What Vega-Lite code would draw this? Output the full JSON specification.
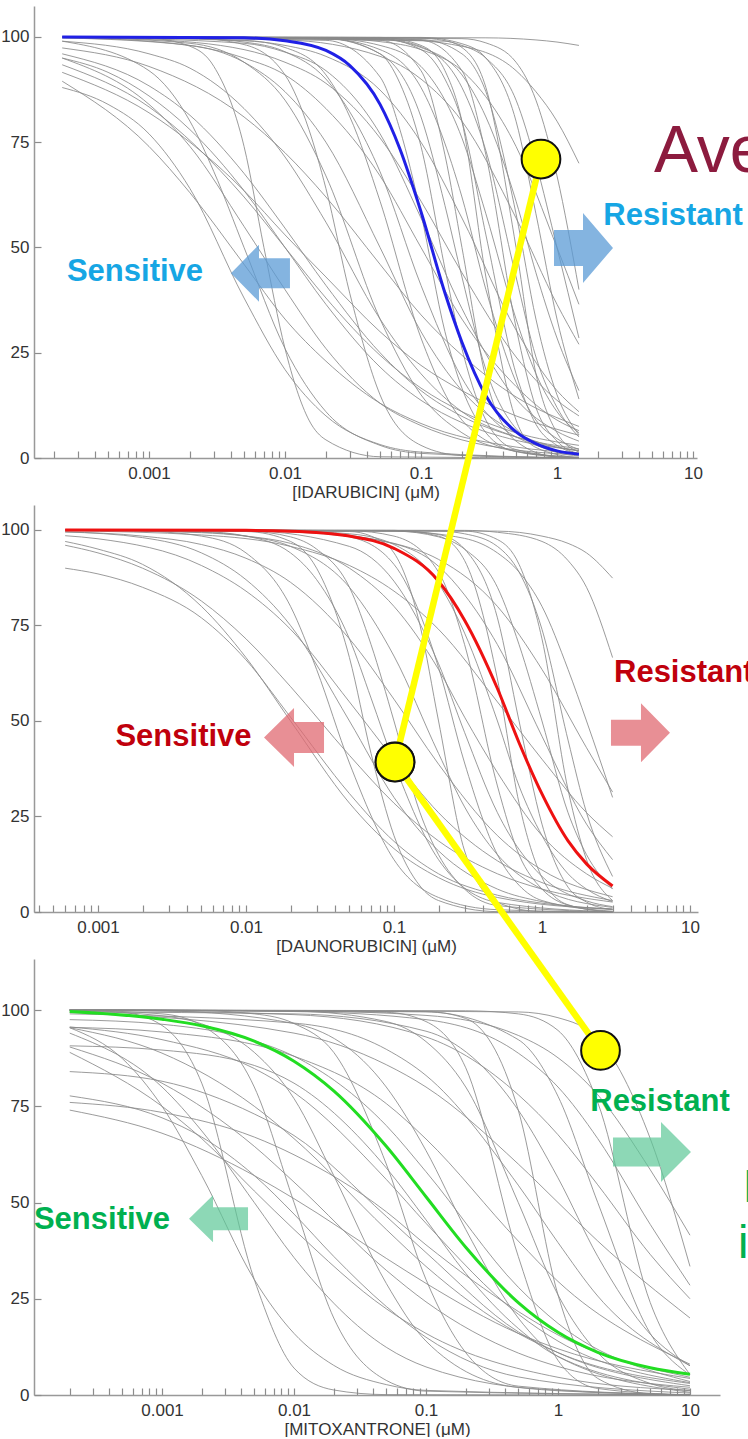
{
"$schema": "https://vega.github.io/schema/vega-lite/v6.json",
"padding": {"left": 0, "top": 6, "right": 0, "bottom": 0},
"autosize": {"type": "pad"},
"bounds": "flush",
"spacing": 47,
"config": {
  "font": "Liberation Sans",
  "view": {"stroke": null},
  "axis": {"grid": false, "domainColor": "#999999", "domainWidth": 1.5, "tickColor": "#8c8c8c", "tickWidth": 1.2, "labelColor": "#333333", "labelFontSize": 17, "labelFont": "Liberation Sans", "titleFont": "Liberation Sans", "titleFontSize": 17, "titleFontWeight": "normal", "titleColor": "#333333"}
},
"datasets": {
"p1": [
{"c":1,"x":0.00023,"y":100},{"c":1,"x":0.02,"y":99.7},{"c":1,"x":0.05,"y":96},{"c":1,"x":0.07,"y":89},{"c":1,"x":0.1,"y":74},{"c":1,"x":0.15,"y":45},{"c":1,"x":0.2,"y":26},{"c":1,"x":0.3,"y":9},{"c":1,"x":0.5,"y":2},{"c":1,"x":1.45,"y":0},
{"c":2,"x":0.00023,"y":100},{"c":2,"x":0.02,"y":99.6},{"c":2,"x":0.05,"y":96},{"c":2,"x":0.1,"y":81},{"c":2,"x":0.15,"y":60},{"c":2,"x":0.2,"y":43},{"c":2,"x":0.3,"y":21},{"c":2,"x":0.5,"y":7},{"c":2,"x":1,"y":1.3},{"c":2,"x":1.45,"y":0.5},
{"c":3,"x":0.00023,"y":100},{"c":3,"x":0.05,"y":99.2},{"c":3,"x":0.1,"y":92},{"c":3,"x":0.15,"y":72},{"c":3,"x":0.2,"y":50},{"c":3,"x":0.3,"y":19},{"c":3,"x":0.5,"y":4},{"c":3,"x":1,"y":0.2},{"c":3,"x":1.45,"y":0},
{"c":4,"x":0.00023,"y":100},{"c":4,"x":0.02,"y":99.6},{"c":4,"x":0.05,"y":97},{"c":4,"x":0.1,"y":88},{"c":4,"x":0.2,"y":62},{"c":4,"x":0.3,"y":40},{"c":4,"x":0.5,"y":18},{"c":4,"x":0.7,"y":9},{"c":4,"x":1,"y":4.6},{"c":4,"x":1.45,"y":2},
{"c":5,"x":0.00023,"y":100},{"c":5,"x":0.05,"y":99.9},{"c":5,"x":0.1,"y":98},{"c":5,"x":0.15,"y":92},{"c":5,"x":0.2,"y":80},{"c":5,"x":0.3,"y":43},{"c":5,"x":0.5,"y":9},{"c":5,"x":0.7,"y":2.5},{"c":5,"x":1.45,"y":0},
{"c":6,"x":0.00023,"y":100},{"c":6,"x":0.05,"y":99.6},{"c":6,"x":0.1,"y":97},{"c":6,"x":0.15,"y":90},{"c":6,"x":0.2,"y":80},{"c":6,"x":0.3,"y":53},{"c":6,"x":0.5,"y":20},{"c":6,"x":0.7,"y":8},{"c":6,"x":1,"y":3},{"c":6,"x":1.45,"y":1},
{"c":7,"x":0.00023,"y":100},{"c":7,"x":0.02,"y":99.7},{"c":7,"x":0.05,"y":98},{"c":7,"x":0.1,"y":93},{"c":7,"x":0.2,"y":76},{"c":7,"x":0.3,"y":58},{"c":7,"x":0.5,"y":33},{"c":7,"x":0.7,"y":20},{"c":7,"x":1,"y":11},{"c":7,"x":1.45,"y":6},
{"c":8,"x":0.00023,"y":100},{"c":8,"x":0.1,"y":99.2},{"c":8,"x":0.2,"y":92},{"c":8,"x":0.3,"y":72},{"c":8,"x":0.5,"y":31},{"c":8,"x":0.7,"y":12},{"c":8,"x":1,"y":4},{"c":8,"x":1.45,"y":1},
{"c":9,"x":0.00023,"y":100},{"c":9,"x":0.05,"y":99.6},{"c":9,"x":0.1,"y":97.7},{"c":9,"x":0.2,"y":88},{"c":9,"x":0.3,"y":73},{"c":9,"x":0.5,"y":43},{"c":9,"x":0.7,"y":24},{"c":9,"x":1,"y":12},{"c":9,"x":1.45,"y":5},
{"c":10,"x":0.00023,"y":100},{"c":10,"x":0.15,"y":99},{"c":10,"x":0.2,"y":97.5},{"c":10,"x":0.3,"y":88},{"c":10,"x":0.5,"y":50},{"c":10,"x":0.7,"y":20},{"c":10,"x":1,"y":6},{"c":10,"x":1.45,"y":1.4},
{"c":11,"x":0.00023,"y":100},{"c":11,"x":0.1,"y":99.4},{"c":11,"x":0.2,"y":96},{"c":11,"x":0.3,"y":87},{"c":11,"x":0.5,"y":58},{"c":11,"x":0.7,"y":33},{"c":11,"x":1,"y":15},{"c":11,"x":1.45,"y":5.5},
{"c":12,"x":0.00023,"y":100},{"c":12,"x":0.05,"y":99.4},{"c":12,"x":0.1,"y":97.5},{"c":12,"x":0.2,"y":91},{"c":12,"x":0.3,"y":81},{"c":12,"x":0.5,"y":61},{"c":12,"x":0.7,"y":44},{"c":12,"x":1,"y":28.5},{"c":12,"x":1.45,"y":16},
{"c":13,"x":0.00023,"y":100},{"c":13,"x":0.1,"y":99.9},{"c":13,"x":0.2,"y":98.4},{"c":13,"x":0.3,"y":95},{"c":13,"x":0.5,"y":80},{"c":13,"x":0.7,"y":58},{"c":13,"x":1,"y":33},{"c":13,"x":1.45,"y":14},
{"c":14,"x":0.00023,"y":100},{"c":14,"x":0.1,"y":99.7},{"c":14,"x":0.2,"y":98},{"c":14,"x":0.3,"y":95},{"c":14,"x":0.5,"y":85},{"c":14,"x":0.7,"y":70},{"c":14,"x":1,"y":50},{"c":14,"x":1.45,"y":28.5},
{"c":15,"x":0.00023,"y":100},{"c":15,"x":0.2,"y":99.6},{"c":15,"x":0.3,"y":98.6},{"c":15,"x":0.5,"y":94},{"c":15,"x":0.7,"y":85},{"c":15,"x":1,"y":67},{"c":15,"x":1.45,"y":40},
{"c":16,"x":0.00023,"y":100},{"c":16,"x":0.05,"y":99.7},{"c":16,"x":0.2,"y":97.8},{"c":16,"x":0.5,"y":92},{"c":16,"x":0.7,"y":87},{"c":16,"x":1,"y":80},{"c":16,"x":1.45,"y":70},
{"c":17,"x":0.00023,"y":100},{"c":17,"x":0.3,"y":99.8},{"c":17,"x":0.7,"y":99.3},{"c":17,"x":1,"y":98.8},{"c":17,"x":1.45,"y":98},
{"c":18,"x":0.00023,"y":100},{"c":18,"x":0.002,"y":98.5},{"c":18,"x":0.005,"y":94},{"c":18,"x":0.01,"y":85},{"c":18,"x":0.02,"y":67},{"c":18,"x":0.05,"y":33},{"c":18,"x":0.1,"y":15},{"c":18,"x":0.2,"y":6},{"c":18,"x":0.5,"y":1.6},{"c":18,"x":1.45,"y":0.2},
{"c":19,"x":0.00023,"y":99.8},{"c":19,"x":0.002,"y":98},{"c":19,"x":0.005,"y":94},{"c":19,"x":0.01,"y":87},{"c":19,"x":0.02,"y":75},{"c":19,"x":0.05,"y":50},{"c":19,"x":0.1,"y":30},{"c":19,"x":0.2,"y":16},{"c":19,"x":0.5,"y":6},{"c":19,"x":1.45,"y":1.7},
{"c":20,"x":0.00023,"y":100},{"c":20,"x":0.005,"y":99.2},{"c":20,"x":0.01,"y":97.5},{"c":20,"x":0.02,"y":91},{"c":20,"x":0.03,"y":81},{"c":20,"x":0.05,"y":61},{"c":20,"x":0.1,"y":28.5},{"c":20,"x":0.2,"y":9},{"c":20,"x":0.5,"y":1.6},{"c":20,"x":1.45,"y":0},
{"c":21,"x":0.00023,"y":99.8},{"c":21,"x":0.001,"y":99},{"c":21,"x":0.005,"y":95},{"c":21,"x":0.01,"y":91},{"c":21,"x":0.02,"y":83},{"c":21,"x":0.05,"y":67},{"c":21,"x":0.1,"y":50},{"c":21,"x":0.2,"y":33},{"c":21,"x":0.5,"y":17},{"c":21,"x":1,"y":9},{"c":21,"x":1.45,"y":6.5},
{"c":22,"x":0.00023,"y":100},{"c":22,"x":0.002,"y":99.7},{"c":22,"x":0.005,"y":98.8},{"c":22,"x":0.01,"y":96.5},{"c":22,"x":0.02,"y":90},{"c":22,"x":0.05,"y":68},{"c":22,"x":0.1,"y":41},{"c":22,"x":0.2,"y":19},{"c":22,"x":0.5,"y":5},{"c":22,"x":1.45,"y":1},
{"c":23,"x":0.00023,"y":100},{"c":23,"x":0.005,"y":98.5},{"c":23,"x":0.01,"y":96.4},{"c":23,"x":0.02,"y":92},{"c":23,"x":0.05,"y":77},{"c":23,"x":0.1,"y":57},{"c":23,"x":0.2,"y":35.5},{"c":23,"x":0.5,"y":14},{"c":23,"x":1,"y":6.3},{"c":23,"x":1.45,"y":4},
{"c":24,"x":0.00023,"y":99},{"c":24,"x":0.001,"y":96},{"c":24,"x":0.002,"y":92.6},{"c":24,"x":0.005,"y":83},{"c":24,"x":0.01,"y":71.5},{"c":24,"x":0.02,"y":56},{"c":24,"x":0.05,"y":33},{"c":24,"x":0.1,"y":20},{"c":24,"x":0.2,"y":11},{"c":24,"x":0.5,"y":5},{"c":24,"x":1.45,"y":1.7},
{"c":25,"x":0.00023,"y":100},{"c":25,"x":0.001,"y":99.7},{"c":25,"x":0.002,"y":97.8},{"c":25,"x":0.003,"y":93},{"c":25,"x":0.005,"y":74},{"c":25,"x":0.007,"y":50},{"c":25,"x":0.01,"y":26},{"c":25,"x":0.015,"y":9},{"c":25,"x":0.02,"y":4.3},{"c":25,"x":0.05,"y":0.3},{"c":25,"x":1.45,"y":0},
{"c":26,"x":0.00023,"y":95},{"c":26,"x":0.0005,"y":91.6},{"c":26,"x":0.001,"y":86},{"c":26,"x":0.002,"y":78},{"c":26,"x":0.005,"y":63.5},{"c":26,"x":0.01,"y":50},{"c":26,"x":0.02,"y":36.5},{"c":26,"x":0.05,"y":21.6},{"c":26,"x":0.1,"y":13.7},{"c":26,"x":0.2,"y":8.4},{"c":26,"x":0.5,"y":4.2},{"c":26,"x":1.45,"y":1.8},
{"c":27,"x":0.00023,"y":91.6},{"c":27,"x":0.001,"y":82},{"c":27,"x":0.002,"y":75},{"c":27,"x":0.005,"y":63.5},{"c":27,"x":0.01,"y":53},{"c":27,"x":0.02,"y":43},{"c":27,"x":0.05,"y":30},{"c":27,"x":0.1,"y":22},{"c":27,"x":0.2,"y":16},{"c":27,"x":0.5,"y":10},{"c":27,"x":1.45,"y":5.4},
{"c":28,"x":0.00023,"y":95},{"c":28,"x":0.001,"y":84},{"c":28,"x":0.002,"y":74},{"c":28,"x":0.005,"y":55},{"c":28,"x":0.01,"y":40},{"c":28,"x":0.02,"y":26},{"c":28,"x":0.05,"y":13},{"c":28,"x":0.1,"y":7.7},{"c":28,"x":0.2,"y":4.3},{"c":28,"x":0.5,"y":1.9},{"c":28,"x":1.45,"y":0.8},
{"c":29,"x":0.00023,"y":89.5},{"c":29,"x":0.001,"y":74},{"c":29,"x":0.002,"y":63},{"c":29,"x":0.005,"y":46},{"c":29,"x":0.01,"y":33},{"c":29,"x":0.02,"y":23},{"c":29,"x":0.05,"y":13},{"c":29,"x":0.1,"y":8.2},{"c":29,"x":0.5,"y":2.6},{"c":29,"x":1.45,"y":1.2},
{"c":30,"x":0.00023,"y":88},{"c":30,"x":0.0005,"y":84},{"c":30,"x":0.001,"y":77},{"c":30,"x":0.002,"y":64},{"c":30,"x":0.005,"y":38},{"c":30,"x":0.01,"y":21},{"c":30,"x":0.02,"y":10},{"c":30,"x":0.05,"y":3.2},{"c":30,"x":0.1,"y":1.4},{"c":30,"x":1.45,"y":0},
{"c":31,"x":0.00023,"y":93.4},{"c":31,"x":0.001,"y":83.4},{"c":31,"x":0.005,"y":62},{"c":31,"x":0.01,"y":50},{"c":31,"x":0.02,"y":38},{"c":31,"x":0.05,"y":24.4},{"c":31,"x":0.1,"y":16.6},{"c":31,"x":0.2,"y":11},{"c":31,"x":0.5,"y":6},{"c":31,"x":1.45,"y":3},
{"c":32,"x":0.00023,"y":97.4},{"c":32,"x":0.001,"y":93},{"c":32,"x":0.005,"y":81},{"c":32,"x":0.01,"y":72.5},{"c":32,"x":0.02,"y":62},{"c":32,"x":0.05,"y":46},{"c":32,"x":0.1,"y":34},{"c":32,"x":0.2,"y":24.4},{"c":32,"x":0.5,"y":14.5},{"c":32,"x":1.45,"y":7.5},
{"c":33,"x":0.00023,"y":99},{"c":33,"x":0.001,"y":92},{"c":33,"x":0.002,"y":80},{"c":33,"x":0.003,"y":68},{"c":33,"x":0.005,"y":50},{"c":33,"x":0.01,"y":26},{"c":33,"x":0.02,"y":11},{"c":33,"x":0.05,"y":3},{"c":33,"x":0.1,"y":1.1},{"c":33,"x":1.45,"y":0},
{"c":34,"x":0.00023,"y":99.9},{"c":34,"x":0.001,"y":99.4},{"c":34,"x":0.005,"y":97},{"c":34,"x":0.01,"y":94},{"c":34,"x":0.02,"y":89},{"c":34,"x":0.05,"y":76},{"c":34,"x":0.1,"y":61},{"c":34,"x":0.2,"y":44},{"c":34,"x":0.5,"y":24},{"c":34,"x":1,"y":13.7},{"c":34,"x":1.45,"y":10},
{"c":35,"x":0.00023,"y":100},{"c":35,"x":0.005,"y":99.1},{"c":35,"x":0.01,"y":98},{"c":35,"x":0.02,"y":95.4},{"c":35,"x":0.05,"y":87.4},{"c":35,"x":0.1,"y":75},{"c":35,"x":0.2,"y":57},{"c":35,"x":0.5,"y":30.4},{"c":35,"x":1,"y":16},{"c":35,"x":1.45,"y":11},
{"c":36,"x":0.00023,"y":100},{"c":36,"x":0.01,"y":99.3},{"c":36,"x":0.05,"y":95.4},{"c":36,"x":0.1,"y":90},{"c":36,"x":0.2,"y":80},{"c":36,"x":0.5,"y":57},{"c":36,"x":1,"y":36.5},{"c":36,"x":1.45,"y":27},
{"c":37,"x":0.00023,"y":100},{"c":37,"x":0.02,"y":99.7},{"c":37,"x":0.05,"y":98.9},{"c":37,"x":0.1,"y":97},{"c":37,"x":0.2,"y":92},{"c":37,"x":0.5,"y":74},{"c":37,"x":1,"y":50},{"c":37,"x":1.45,"y":36.5},
{"c":38,"x":0.00023,"y":96},{"c":38,"x":0.001,"y":88.4},{"c":38,"x":0.002,"y":81.4},{"c":38,"x":0.005,"y":67.6},{"c":38,"x":0.01,"y":54.6},{"c":38,"x":0.02,"y":41},{"c":38,"x":0.05,"y":25},{"c":38,"x":0.1,"y":16},{"c":38,"x":0.2,"y":9.9},{"c":38,"x":0.5,"y":5},{"c":38,"x":1.45,"y":2.2},
{"c":39,"x":0.00023,"y":100},{"c":39,"x":0.002,"y":99.8},{"c":39,"x":0.005,"y":98.2},{"c":39,"x":0.01,"y":91},{"c":39,"x":0.015,"y":78},{"c":39,"x":0.02,"y":64},{"c":39,"x":0.03,"y":39},{"c":39,"x":0.05,"y":15},{"c":39,"x":0.1,"y":3},{"c":39,"x":0.2,"y":0.6},{"c":39,"x":1.45,"y":0},
{"c":40,"x":0.00023,"y":100},{"c":40,"x":0.02,"y":99.2},{"c":40,"x":0.05,"y":90.5},{"c":40,"x":0.07,"y":78},{"c":40,"x":0.1,"y":58},{"c":40,"x":0.15,"y":30},{"c":40,"x":0.2,"y":16.6},{"c":40,"x":0.3,"y":6},{"c":40,"x":0.5,"y":1.5},{"c":40,"x":1.45,"y":0}
],
"a1": [{"x":0.00023,"y":100},{"x":0.005,"y":99.8},{"x":0.01,"y":99.1},{"x":0.02,"y":96.8},{"x":0.03,"y":93.2},{"x":0.05,"y":84},{"x":0.07,"y":73.4},{"x":0.1,"y":58.5},{"x":0.15,"y":39.2},{"x":0.2,"y":27.5},{"x":0.3,"y":14.8},{"x":0.5,"y":6.2},{"x":0.7,"y":3.4},{"x":1,"y":1.7},{"x":1.45,"y":0.9}],
"p2": [
{"c":1,"x":0.0006,"y":90},{"c":1,"x":0.001,"y":88.5},{"c":1,"x":0.002,"y":85},{"c":1,"x":0.005,"y":77},{"c":1,"x":0.01,"y":66},{"c":1,"x":0.02,"y":51},{"c":1,"x":0.05,"y":31},{"c":1,"x":0.1,"y":18.5},{"c":1,"x":0.2,"y":10},{"c":1,"x":0.5,"y":4.4},{"c":1,"x":1,"y":2.3},{"c":1,"x":3,"y":0.8},
{"c":2,"x":0.0006,"y":99.5},{"c":2,"x":0.002,"y":98},{"c":2,"x":0.005,"y":94},{"c":2,"x":0.01,"y":87},{"c":2,"x":0.02,"y":75},{"c":2,"x":0.05,"y":50},{"c":2,"x":0.1,"y":30},{"c":2,"x":0.2,"y":16},{"c":2,"x":0.5,"y":6},{"c":2,"x":1,"y":2.7},{"c":2,"x":3,"y":0.7},
{"c":3,"x":0.0006,"y":100},{"c":3,"x":0.005,"y":99.6},{"c":3,"x":0.01,"y":98.4},{"c":3,"x":0.02,"y":94},{"c":3,"x":0.03,"y":87},{"c":3,"x":0.05,"y":71.5},{"c":3,"x":0.07,"y":56},{"c":3,"x":0.1,"y":39},{"c":3,"x":0.2,"y":13.7},{"c":3,"x":0.5,"y":2.5},{"c":3,"x":3,"y":0},
{"c":4,"x":0.0006,"y":96},{"c":4,"x":0.001,"y":94},{"c":4,"x":0.002,"y":90},{"c":4,"x":0.005,"y":81.4},{"c":4,"x":0.01,"y":71.5},{"c":4,"x":0.02,"y":59},{"c":4,"x":0.05,"y":41},{"c":4,"x":0.1,"y":28.5},{"c":4,"x":0.2,"y":18.6},{"c":4,"x":0.5,"y":10},{"c":4,"x":1,"y":6},{"c":4,"x":3,"y":2.6},
{"c":5,"x":0.0006,"y":100},{"c":5,"x":0.01,"y":99.7},{"c":5,"x":0.02,"y":98.2},{"c":5,"x":0.03,"y":95},{"c":5,"x":0.05,"y":85},{"c":5,"x":0.07,"y":70},{"c":5,"x":0.1,"y":50},{"c":5,"x":0.15,"y":26},{"c":5,"x":0.2,"y":15},{"c":5,"x":0.3,"y":6},{"c":5,"x":0.5,"y":1.7},{"c":5,"x":3,"y":0},
{"c":6,"x":0.0006,"y":100},{"c":6,"x":0.005,"y":99.4},{"c":6,"x":0.01,"y":98.4},{"c":6,"x":0.02,"y":95.7},{"c":6,"x":0.05,"y":85},{"c":6,"x":0.1,"y":67},{"c":6,"x":0.2,"y":41.5},{"c":6,"x":0.3,"y":27.5},{"c":6,"x":0.5,"y":15},{"c":6,"x":1,"y":6},{"c":6,"x":3,"y":1.2},
{"c":7,"x":0.0006,"y":100},{"c":7,"x":0.02,"y":99.8},{"c":7,"x":0.05,"y":98.2},{"c":7,"x":0.1,"y":91},{"c":7,"x":0.15,"y":78},{"c":7,"x":0.2,"y":64},{"c":7,"x":0.3,"y":39},{"c":7,"x":0.5,"y":15},{"c":7,"x":0.7,"y":7},{"c":7,"x":1,"y":3},{"c":7,"x":3,"y":0.2},
{"c":8,"x":0.0006,"y":100},{"c":8,"x":0.005,"y":99.3},{"c":8,"x":0.01,"y":98.4},{"c":8,"x":0.02,"y":96.5},{"c":8,"x":0.05,"y":90},{"c":8,"x":0.1,"y":80},{"c":8,"x":0.2,"y":63.5},{"c":8,"x":0.3,"y":51},{"c":8,"x":0.5,"y":36.5},{"c":8,"x":1,"y":20},{"c":8,"x":2,"y":10},{"c":8,"x":3,"y":6.2},
{"c":9,"x":0.0006,"y":100},{"c":9,"x":0.05,"y":99.8},{"c":9,"x":0.1,"y":98.4},{"c":9,"x":0.2,"y":89},{"c":9,"x":0.3,"y":70},{"c":9,"x":0.5,"y":33},{"c":9,"x":0.7,"y":15},{"c":9,"x":1,"y":6},{"c":9,"x":1.5,"y":1.8},{"c":9,"x":3,"y":0},
{"c":10,"x":0.0006,"y":100},{"c":10,"x":0.02,"y":99.7},{"c":10,"x":0.05,"y":99},{"c":10,"x":0.1,"y":96.2},{"c":10,"x":0.2,"y":86},{"c":10,"x":0.3,"y":73},{"c":10,"x":0.5,"y":50},{"c":10,"x":0.7,"y":33},{"c":10,"x":1,"y":20},{"c":10,"x":1.5,"y":10},{"c":10,"x":2,"y":6},{"c":10,"x":3,"y":2.7},
{"c":11,"x":0.0006,"y":100},{"c":11,"x":0.1,"y":99.8},{"c":11,"x":0.2,"y":98.8},{"c":11,"x":0.3,"y":95},{"c":11,"x":0.5,"y":77},{"c":11,"x":0.7,"y":50},{"c":11,"x":1,"y":23},{"c":11,"x":1.5,"y":6.5},{"c":11,"x":2,"y":2.6},{"c":11,"x":3,"y":0.6},
{"c":12,"x":0.0006,"y":100},{"c":12,"x":0.1,"y":99.7},{"c":12,"x":0.2,"y":98.2},{"c":12,"x":0.3,"y":95},{"c":12,"x":0.5,"y":85},{"c":12,"x":0.7,"y":70},{"c":12,"x":1,"y":50},{"c":12,"x":1.5,"y":26},{"c":12,"x":2,"y":15},{"c":12,"x":3,"y":6},
{"c":13,"x":0.0006,"y":100},{"c":13,"x":0.2,"y":99.7},{"c":13,"x":0.3,"y":99},{"c":13,"x":0.5,"y":95.7},{"c":13,"x":0.7,"y":89},{"c":13,"x":1,"y":74},{"c":13,"x":1.5,"y":45},{"c":13,"x":2,"y":26},{"c":13,"x":3,"y":9.3},
{"c":14,"x":0.0006,"y":100},{"c":14,"x":0.1,"y":99.7},{"c":14,"x":0.3,"y":97.8},{"c":14,"x":0.5,"y":94},{"c":14,"x":0.7,"y":89},{"c":14,"x":1,"y":80},{"c":14,"x":1.5,"y":63.5},{"c":14,"x":2,"y":50},{"c":14,"x":3,"y":30},
{"c":15,"x":0.0006,"y":100},{"c":15,"x":0.3,"y":99.9},{"c":15,"x":0.5,"y":99.4},{"c":15,"x":1,"y":97},{"c":15,"x":1.5,"y":92},{"c":15,"x":2,"y":85},{"c":15,"x":3,"y":66.6},
{"c":16,"x":0.0006,"y":100},{"c":16,"x":0.5,"y":99.7},{"c":16,"x":1,"y":98.4},{"c":16,"x":1.5,"y":96.5},{"c":16,"x":2,"y":94},{"c":16,"x":3,"y":87.4},
{"c":17,"x":0.0006,"y":100},{"c":17,"x":0.05,"y":99.6},{"c":17,"x":0.07,"y":98.4},{"c":17,"x":0.1,"y":94},{"c":17,"x":0.15,"y":75},{"c":17,"x":0.2,"y":50},{"c":17,"x":0.3,"y":16},{"c":17,"x":0.5,"y":2.5},{"c":17,"x":1,"y":0.1},{"c":17,"x":3,"y":0},
{"c":18,"x":0.0006,"y":100},{"c":18,"x":0.1,"y":99.9},{"c":18,"x":0.2,"y":98.4},{"c":18,"x":0.3,"y":92},{"c":18,"x":0.5,"y":61},{"c":18,"x":0.7,"y":28.5},{"c":18,"x":1,"y":9},{"c":18,"x":1.5,"y":1.9},{"c":18,"x":3,"y":0},
{"c":19,"x":0.0006,"y":100},{"c":19,"x":0.3,"y":99.7},{"c":19,"x":0.5,"y":97.5},{"c":19,"x":0.7,"y":91},{"c":19,"x":1,"y":71.5},{"c":19,"x":1.5,"y":32},{"c":19,"x":2,"y":13.7},{"c":19,"x":3,"y":3},
{"c":20,"x":0.0006,"y":100},{"c":20,"x":0.02,"y":99.7},{"c":20,"x":0.1,"y":96.4},{"c":20,"x":0.2,"y":90.5},{"c":20,"x":0.3,"y":83},{"c":20,"x":0.5,"y":70},{"c":20,"x":1,"y":46},{"c":20,"x":2,"y":23},{"c":20,"x":3,"y":13.7},
{"c":21,"x":0.0006,"y":97},{"c":21,"x":0.001,"y":95},{"c":21,"x":0.002,"y":91},{"c":21,"x":0.005,"y":80},{"c":21,"x":0.01,"y":66.6},{"c":21,"x":0.02,"y":50},{"c":21,"x":0.05,"y":28.5},{"c":21,"x":0.1,"y":16.6},{"c":21,"x":0.2,"y":9},{"c":21,"x":0.5,"y":3.8},{"c":21,"x":3,"y":0.7},
{"c":22,"x":0.0006,"y":100},{"c":22,"x":0.002,"y":99.7},{"c":22,"x":0.005,"y":98.4},{"c":22,"x":0.01,"y":94},{"c":22,"x":0.02,"y":80},{"c":22,"x":0.03,"y":63.5},{"c":22,"x":0.05,"y":39},{"c":22,"x":0.1,"y":13.7},{"c":22,"x":0.2,"y":3.8},{"c":22,"x":0.5,"y":0.6},{"c":22,"x":3,"y":0},
{"c":23,"x":0.0006,"y":98.5},{"c":23,"x":0.001,"y":97.7},{"c":23,"x":0.005,"y":90.7},{"c":23,"x":0.01,"y":84},{"c":23,"x":0.02,"y":74},{"c":23,"x":0.05,"y":55},{"c":23,"x":0.1,"y":40},{"c":23,"x":0.2,"y":26},{"c":23,"x":0.5,"y":13.4},{"c":23,"x":1,"y":7.7},{"c":23,"x":3,"y":3},
{"c":24,"x":0.0006,"y":99.5},{"c":24,"x":0.002,"y":98.4},{"c":24,"x":0.005,"y":96.2},{"c":24,"x":0.01,"y":92.6},{"c":24,"x":0.02,"y":86.3},{"c":24,"x":0.05,"y":71.5},{"c":24,"x":0.1,"y":55.7},{"c":24,"x":0.2,"y":38.7},{"c":24,"x":0.5,"y":20},{"c":24,"x":1,"y":11},{"c":24,"x":3,"y":4},
{"c":25,"x":0.0006,"y":99.8},{"c":25,"x":0.005,"y":98.7},{"c":25,"x":0.02,"y":95.7},{"c":25,"x":0.05,"y":90.7},{"c":25,"x":0.1,"y":84},{"c":25,"x":0.2,"y":74},{"c":25,"x":0.5,"y":55},{"c":25,"x":1,"y":40},{"c":25,"x":2,"y":26},{"c":25,"x":3,"y":19.7},
{"c":26,"x":0.0006,"y":100},{"c":26,"x":0.01,"y":99.8},{"c":26,"x":0.05,"y":95.7},{"c":26,"x":0.1,"y":86.6},{"c":26,"x":0.2,"y":65},{"c":26,"x":0.3,"y":47},{"c":26,"x":0.5,"y":26},{"c":26,"x":1,"y":9.3},{"c":26,"x":2,"y":2.9},{"c":26,"x":3,"y":1.4},
{"c":27,"x":0.0006,"y":100},{"c":27,"x":0.01,"y":99.6},{"c":27,"x":0.02,"y":97},{"c":27,"x":0.03,"y":90},{"c":27,"x":0.05,"y":66.6},{"c":27,"x":0.07,"y":41.5},{"c":27,"x":0.1,"y":20},{"c":27,"x":0.15,"y":6.8},{"c":27,"x":0.2,"y":3},{"c":27,"x":0.5,"y":0.1},{"c":27,"x":3,"y":0},
{"c":28,"x":0.0006,"y":100},{"c":28,"x":0.01,"y":99.8},{"c":28,"x":0.05,"y":98.4},{"c":28,"x":0.1,"y":96.5},{"c":28,"x":0.2,"y":92.3},{"c":28,"x":0.5,"y":80},{"c":28,"x":1,"y":63.5},{"c":28,"x":2,"y":43},{"c":28,"x":3,"y":31.4}
],
"a2": [{"x":0.0006,"y":100},{"x":0.01,"y":99.9},{"x":0.02,"y":99.7},{"x":0.05,"y":98.4},{"x":0.1,"y":95.2},{"x":0.2,"y":86.6},{"x":0.3,"y":76.4},{"x":0.5,"y":58.5},{"x":0.7,"y":44.3},{"x":1,"y":30.9},{"x":1.5,"y":18.6},{"x":2,"y":12.6},{"x":3,"y":6.8}],
"p3": [
{"c":1,"x":0.0002,"y":74},{"c":1,"x":0.001,"y":68},{"c":1,"x":0.005,"y":57},{"c":1,"x":0.01,"y":51},{"c":1,"x":0.05,"y":35.5},{"c":1,"x":0.1,"y":29},{"c":1,"x":0.5,"y":16},{"c":1,"x":1,"y":12},{"c":1,"x":10,"y":4.3},
{"c":2,"x":0.0002,"y":76},{"c":2,"x":0.001,"y":73.4},{"c":2,"x":0.005,"y":67},{"c":2,"x":0.01,"y":62.4},{"c":2,"x":0.05,"y":47.6},{"c":2,"x":0.1,"y":39},{"c":2,"x":0.5,"y":21.7},{"c":2,"x":1,"y":15.6},{"c":2,"x":10,"y":4.6},
{"c":3,"x":0.0002,"y":77.7},{"c":3,"x":0.001,"y":72},{"c":3,"x":0.002,"y":67},{"c":3,"x":0.005,"y":57},{"c":3,"x":0.01,"y":47},{"c":3,"x":0.02,"y":36},{"c":3,"x":0.05,"y":23},{"c":3,"x":0.1,"y":15},{"c":3,"x":0.5,"y":4.7},{"c":3,"x":10,"y":0.5},
{"c":4,"x":0.0002,"y":84},{"c":4,"x":0.001,"y":81.5},{"c":4,"x":0.005,"y":73},{"c":4,"x":0.01,"y":67.4},{"c":4,"x":0.05,"y":46.4},{"c":4,"x":0.1,"y":37},{"c":4,"x":0.5,"y":16.4},{"c":4,"x":1,"y":11},{"c":4,"x":10,"y":2.4},
{"c":5,"x":0.0002,"y":89},{"c":5,"x":0.001,"y":75},{"c":5,"x":0.002,"y":66.6},{"c":5,"x":0.005,"y":53},{"c":5,"x":0.01,"y":43},{"c":5,"x":0.05,"y":22.4},{"c":5,"x":0.1,"y":16},{"c":5,"x":1,"y":4.6},{"c":5,"x":10,"y":1.2},
{"c":6,"x":0.0002,"y":90.7},{"c":6,"x":0.001,"y":89.6},{"c":6,"x":0.005,"y":85.6},{"c":6,"x":0.01,"y":81},{"c":6,"x":0.05,"y":59},{"c":6,"x":0.1,"y":45.5},{"c":6,"x":0.2,"y":31.6},{"c":6,"x":0.5,"y":17.3},{"c":6,"x":1,"y":10},{"c":6,"x":10,"y":1.5},
{"c":7,"x":0.0002,"y":100},{"c":7,"x":0.001,"y":99},{"c":7,"x":0.002,"y":96},{"c":7,"x":0.005,"y":80},{"c":7,"x":0.01,"y":50},{"c":7,"x":0.02,"y":20},{"c":7,"x":0.05,"y":3.8},{"c":7,"x":0.1,"y":1},{"c":7,"x":10,"y":0},
{"c":8,"x":0.0002,"y":99.8},{"c":8,"x":0.001,"y":98.5},{"c":8,"x":0.002,"y":96.4},{"c":8,"x":0.005,"y":89},{"c":8,"x":0.01,"y":77},{"c":8,"x":0.02,"y":57},{"c":8,"x":0.05,"y":29},{"c":8,"x":0.1,"y":14},{"c":8,"x":0.5,"y":2},{"c":8,"x":10,"y":0},
{"c":9,"x":0.0002,"y":95.4},{"c":9,"x":0.001,"y":88.8},{"c":9,"x":0.005,"y":75},{"c":9,"x":0.01,"y":66.6},{"c":9,"x":0.05,"y":43},{"c":9,"x":0.1,"y":33.4},{"c":9,"x":0.5,"y":16},{"c":9,"x":1,"y":11},{"c":9,"x":10,"y":3},
{"c":10,"x":0.0002,"y":97.5},{"c":10,"x":0.001,"y":96.3},{"c":10,"x":0.005,"y":92},{"c":10,"x":0.01,"y":88},{"c":10,"x":0.05,"y":70},{"c":10,"x":0.1,"y":58},{"c":10,"x":0.5,"y":28},{"c":10,"x":1,"y":18.6},{"c":10,"x":10,"y":3.5},
{"c":11,"x":0.0002,"y":95.5},{"c":11,"x":0.001,"y":94.3},{"c":11,"x":0.01,"y":88},{"c":11,"x":0.05,"y":75.7},{"c":11,"x":0.1,"y":66.5},{"c":11,"x":0.5,"y":40},{"c":11,"x":1,"y":29.5},{"c":11,"x":10,"y":8},
{"c":12,"x":0.0002,"y":99.4},{"c":12,"x":0.01,"y":94},{"c":12,"x":0.05,"y":85.8},{"c":12,"x":0.1,"y":80},{"c":12,"x":0.5,"y":60},{"c":12,"x":1,"y":50},{"c":12,"x":2,"y":40},{"c":12,"x":10,"y":20},
{"c":13,"x":0.0002,"y":100},{"c":13,"x":0.01,"y":98.8},{"c":13,"x":0.1,"y":93},{"c":13,"x":0.5,"y":78},{"c":13,"x":1,"y":67.6},{"c":13,"x":2,"y":54.6},{"c":13,"x":5,"y":36.5},{"c":13,"x":10,"y":25},
{"c":14,"x":0.0002,"y":100},{"c":14,"x":0.01,"y":99.6},{"c":14,"x":0.1,"y":97.5},{"c":14,"x":0.5,"y":88.8},{"c":14,"x":1,"y":80},{"c":14,"x":2,"y":66.6},{"c":14,"x":5,"y":44.3},{"c":14,"x":10,"y":28.5},
{"c":15,"x":0.0002,"y":100},{"c":15,"x":0.2,"y":99.8},{"c":15,"x":0.5,"y":99},{"c":15,"x":1,"y":94.7},{"c":15,"x":2,"y":76},{"c":15,"x":5,"y":24},{"c":15,"x":10,"y":5.3},
{"c":16,"x":0.0002,"y":100},{"c":16,"x":0.5,"y":99.5},{"c":16,"x":1,"y":98},{"c":16,"x":2,"y":92.6},{"c":16,"x":5,"y":66.6},{"c":16,"x":10,"y":33.4},
{"c":17,"x":0.0002,"y":100},{"c":17,"x":0.1,"y":99.5},{"c":17,"x":0.5,"y":92.3},{"c":17,"x":1,"y":77.6},{"c":17,"x":2,"y":50},{"c":17,"x":5,"y":16},{"c":17,"x":10,"y":5.2},
{"c":18,"x":0.0002,"y":100},{"c":18,"x":0.01,"y":99.7},{"c":18,"x":0.05,"y":97},{"c":18,"x":0.1,"y":91.8},{"c":18,"x":0.2,"y":80},{"c":18,"x":0.5,"y":50},{"c":18,"x":1,"y":26},{"c":18,"x":2,"y":11},{"c":18,"x":5,"y":3},{"c":18,"x":10,"y":1.1},
{"c":19,"x":0.0002,"y":100},{"c":19,"x":0.001,"y":99.8},{"c":19,"x":0.01,"y":96.5},{"c":19,"x":0.05,"y":80},{"c":19,"x":0.1,"y":63.5},{"c":19,"x":0.2,"y":43},{"c":19,"x":0.5,"y":20},{"c":19,"x":1,"y":10},{"c":19,"x":10,"y":0.7},
{"c":20,"x":0.0002,"y":100},{"c":20,"x":0.002,"y":99.8},{"c":20,"x":0.005,"y":99},{"c":20,"x":0.01,"y":96.5},{"c":20,"x":0.02,"y":89},{"c":20,"x":0.05,"y":60},{"c":20,"x":0.1,"y":30},{"c":20,"x":0.2,"y":11},{"c":20,"x":0.5,"y":2.3},{"c":20,"x":10,"y":0},
{"c":21,"x":0.0002,"y":99},{"c":21,"x":0.01,"y":96.6},{"c":21,"x":0.05,"y":89.8},{"c":21,"x":0.1,"y":83},{"c":21,"x":0.5,"y":54.5},{"c":21,"x":1,"y":39.6},{"c":21,"x":2,"y":25.7},{"c":21,"x":10,"y":7.6},
{"c":22,"x":0.0002,"y":100},{"c":22,"x":0.0005,"y":99.4},{"c":22,"x":0.001,"y":96},{"c":22,"x":0.002,"y":81},{"c":22,"x":0.005,"y":30},{"c":22,"x":0.01,"y":7},{"c":22,"x":0.02,"y":1.3},{"c":22,"x":0.05,"y":0.1},{"c":22,"x":10,"y":0},
{"c":23,"x":0.0002,"y":95.6},{"c":23,"x":0.001,"y":92.3},{"c":23,"x":0.005,"y":84.8},{"c":23,"x":0.01,"y":78.6},{"c":23,"x":0.05,"y":56},{"c":23,"x":0.1,"y":44.6},{"c":23,"x":0.5,"y":21},{"c":23,"x":1,"y":14},{"c":23,"x":10,"y":3.2},
{"c":24,"x":0.0002,"y":100},{"c":24,"x":0.05,"y":99.4},{"c":24,"x":0.1,"y":97},{"c":24,"x":0.2,"y":85},{"c":24,"x":0.5,"y":36},{"c":24,"x":1,"y":9},{"c":24,"x":2,"y":1.7},{"c":24,"x":10,"y":0},
{"c":25,"x":0.0002,"y":99.5},{"c":25,"x":0.01,"y":99},{"c":25,"x":0.1,"y":94.5},{"c":25,"x":0.5,"y":74},{"c":25,"x":1,"y":56.4},{"c":25,"x":2,"y":36},{"c":25,"x":5,"y":15.8},{"c":25,"x":10,"y":7.6},
{"c":26,"x":0.0002,"y":94},{"c":26,"x":0.001,"y":80},{"c":26,"x":0.002,"y":68.6},{"c":26,"x":0.005,"y":50},{"c":26,"x":0.01,"y":35.7},{"c":26,"x":0.05,"y":12.4},{"c":26,"x":0.1,"y":7.3},{"c":26,"x":1,"y":1.1},{"c":26,"x":10,"y":0.1},
{"c":27,"x":0.0002,"y":90.4},{"c":27,"x":0.001,"y":81},{"c":27,"x":0.005,"y":64.6},{"c":27,"x":0.01,"y":55.3},{"c":27,"x":0.05,"y":32.4},{"c":27,"x":0.1,"y":24.2},{"c":27,"x":0.5,"y":10.9},{"c":27,"x":1,"y":7.4},{"c":27,"x":10,"y":2},
{"c":28,"x":0.0002,"y":100},{"c":28,"x":0.1,"y":99.6},{"c":28,"x":0.2,"y":97.8},{"c":28,"x":0.5,"y":74},{"c":28,"x":1,"y":26},{"c":28,"x":2,"y":4.3},{"c":28,"x":5,"y":0.3},{"c":28,"x":10,"y":0},
{"c":29,"x":0.0002,"y":100},{"c":29,"x":0.01,"y":99.8},{"c":29,"x":0.1,"y":98.6},{"c":29,"x":0.5,"y":93.4},{"c":29,"x":1,"y":87.6},{"c":29,"x":2,"y":78},{"c":29,"x":5,"y":58.5},{"c":29,"x":10,"y":41.5},
{"c":30,"x":0.0002,"y":95.4},{"c":30,"x":0.0005,"y":87.4},{"c":30,"x":0.001,"y":75},{"c":30,"x":0.002,"y":57},{"c":30,"x":0.005,"y":30},{"c":30,"x":0.01,"y":16},{"c":30,"x":0.02,"y":7.7},{"c":30,"x":0.05,"y":2.7},{"c":30,"x":0.1,"y":1.2},{"c":30,"x":10,"y":0}
],
"a3": [{"x":0.0002,"y":99.6},{"x":0.001,"y":97.6},{"x":0.002,"y":95.9},{"x":0.005,"y":91.9},{"x":0.01,"y":86.7},{"x":0.02,"y":79},{"x":0.05,"y":64.6},{"x":0.1,"y":51.5},{"x":0.2,"y":38.4},{"x":0.5,"y":24},{"x":1,"y":16.3},{"x":2,"y":11.1},{"x":5,"y":7.1},{"x":10,"y":5.4}],
"t1": [{"x":0.000789,"y":44.2,"t":"Sensitive"},{"x":7.13,"y":57.5,"t":"Resistant"}],
"ave": [{"x":5.167,"y":67.9,"t":"Ave"}],
"l1": [{"x":0.0066,"y":43.9}],
"r1": [{"x":1.566,"y":49.9}],
"t2": [{"x":0.003783,"y":45.8,"t":"Sensitive"},{"x":9.08,"y":62.6,"t":"Resistant"}],
"l2": [{"x":0.02111,"y":45.7}],
"r2": [{"x":4.63,"y":46.9}],
"y2": [{"x":0.9847,"y":197.1},{"x":0.1016,"y":39.27}],
"t3": [{"x":0.000351,"y":45.5,"t":"Sensitive"},{"x":5.927,"y":76.1,"t":"Resistant"}],
"t3b": [{"x":25.2,"y":50.1,"t":"N"},{"x":23.1,"y":35.6,"t":"in"}],
"l3": [{"x":0.00268,"y":45.8}],
"r3": [{"x":5.154,"y":63.1}],
"y3": [{"x":0.05822,"y":164.4},{"x":2.099,"y":89.5}]
},
"vconcat": [
{
 "width": 663, "height": 452,
 "encoding": {
  "x": {"field": "x", "type": "quantitative", "scale": {"type": "log", "domain": [0.0001427, 10.7], "nice": false},
   "axis": {"values": [0.0002,0.0003,0.0004,0.0005,0.0006,0.0007,0.0008,0.0009,0.001,0.002,0.003,0.004,0.005,0.006,0.007,0.008,0.009,0.01,0.02,0.03,0.04,0.05,0.06,0.07,0.08,0.09,0.1,0.2,0.3,0.4,0.5,0.6,0.7,0.8,0.9,1,2,3,4,5,6,7,8,9,10],
    "labelExpr": "abs(log(datum.value)/LN10 - round(log(datum.value)/LN10)) < 0.000001 ? format(datum.value, '~g') : ''",
    "title": "[IDARUBICIN] (μM)", "tickSize": -7, "labelPadding": 14, "titlePadding": 3, "labelOverlap": false, "labelFlush": false}},
  "y": {"field": "y", "type": "quantitative", "scale": {"domain": [0, 107.36], "nice": false, "zero": false},
   "axis": {"values": [0,25,50,75,100], "title": null, "tickSize": -7, "labelPadding": 12, "format": "d"}}
 },
 "layer": [
  {"data": {"name": "p1"}, "mark": {"type": "line", "interpolate": "monotone", "color": "#8a8a8a", "strokeWidth": 1, "opacity": 0.85}, "encoding": {"detail": {"field": "c", "type": "nominal"}}},
  {"data": {"name": "a1"}, "mark": {"type": "line", "interpolate": "monotone", "color": "#2020e6", "strokeWidth": 3}, "encoding": {}},
  {"data": {"name": "l1"}, "mark": {"type": "point", "shape": "M-1,0L-0.05,-0.966L-0.05,-0.51L1,-0.51L1,0.51L-0.05,0.51L-0.05,0.966Z", "size": 3481, "filled": true, "color": "#5B9BD5", "opacity": 0.75, "strokeWidth": 0, "clip": false}},
  {"data": {"name": "r1"}, "mark": {"type": "point", "shape": "M0.843,0L-0.014,-1L-0.014,-0.514L-0.843,-0.514L-0.843,0.514L-0.014,0.514L-0.014,1Z", "size": 4900, "filled": true, "color": "#5B9BD5", "opacity": 0.75, "strokeWidth": 0, "clip": false}},
  {"data": {"name": "t1"}, "mark": {"type": "text", "fontWeight": "bold", "fontSize": 31, "color": "#16A6E4", "clip": false}, "encoding": {"text": {"field": "t"}}},
  {"data": {"name": "ave"}, "mark": {"type": "text", "fontSize": 66, "color": "#8C1B3E", "align": "left", "baseline": "alphabetic", "clip": false}, "encoding": {"text": {"field": "t"}}}
 ]
},
{
 "width": 664, "height": 407,
 "encoding": {
  "x": {"field": "x", "type": "quantitative", "scale": {"type": "log", "domain": [0.0003695, 11.33], "nice": false},
   "axis": {"values": [0.0004,0.0005,0.0006,0.0007,0.0008,0.0009,0.001,0.002,0.003,0.004,0.005,0.006,0.007,0.008,0.009,0.01,0.02,0.03,0.04,0.05,0.06,0.07,0.08,0.09,0.1,0.2,0.3,0.4,0.5,0.6,0.7,0.8,0.9,1,2,3,4,5,6,7,8,9,10],
    "labelExpr": "abs(log(datum.value)/LN10 - round(log(datum.value)/LN10)) < 0.000001 ? format(datum.value, '~g') : ''",
    "title": "[DAUNORUBICIN] (μM)", "tickSize": -7, "labelPadding": 14, "titlePadding": 3, "labelOverlap": false, "labelFlush": false}},
  "y": {"field": "y", "type": "quantitative", "scale": {"domain": [0, 106.54], "nice": false, "zero": false},
   "axis": {"values": [0,25,50,75,100], "title": null, "tickSize": -7, "labelPadding": 12, "format": "d"}}
 },
 "layer": [
  {"data": {"name": "p2"}, "mark": {"type": "line", "interpolate": "monotone", "color": "#8a8a8a", "strokeWidth": 1, "opacity": 0.85}, "encoding": {"detail": {"field": "c", "type": "nominal"}}},
  {"data": {"name": "a2"}, "mark": {"type": "line", "interpolate": "monotone", "color": "#ee1111", "strokeWidth": 3}, "encoding": {}},
  {"data": {"name": "l2"}, "mark": {"type": "point", "shape": "M-1,0L0,-0.983L0,-0.517L1,-0.517L1,0.517L0,0.517L0,0.983Z", "size": 3600, "filled": true, "color": "#E06A72", "opacity": 0.75, "strokeWidth": 0, "clip": false}},
  {"data": {"name": "r2"}, "mark": {"type": "point", "shape": "M1,0L0.017,-1L0.017,-0.44L-1,-0.44L-1,0.44L0.017,0.44L0.017,1Z", "size": 3481, "filled": true, "color": "#E06A72", "opacity": 0.75, "strokeWidth": 0, "clip": false}},
  {"data": {"name": "t2"}, "mark": {"type": "text", "fontWeight": "bold", "fontSize": 31, "color": "#C0000C", "clip": false}, "encoding": {"text": {"field": "t"}}},
  {"data": {"name": "y2"}, "mark": {"type": "line", "color": "#FFFF00", "strokeWidth": 6.5, "clip": false}, "encoding": {}},
  {"data": {"name": "y2"}, "mark": {"type": "point", "shape": "circle", "size": 1500, "filled": true, "fill": "#FFFF00", "stroke": "#111111", "strokeWidth": 2, "opacity": 1, "clip": false}}
 ]
},
{
 "width": 686, "height": 436,
 "encoding": {
  "x": {"field": "x", "type": "quantitative", "scale": {"type": "log", "domain": [0.0001072, 16.88], "nice": false},
   "axis": {"values": [0.0002,0.0003,0.0004,0.0005,0.0006,0.0007,0.0008,0.0009,0.001,0.002,0.003,0.004,0.005,0.006,0.007,0.008,0.009,0.01,0.02,0.03,0.04,0.05,0.06,0.07,0.08,0.09,0.1,0.2,0.3,0.4,0.5,0.6,0.7,0.8,0.9,1,2,3,4,5,6,7,8,9,10],
    "labelExpr": "abs(log(datum.value)/LN10 - round(log(datum.value)/LN10)) < 0.000001 ? format(datum.value, '~g') : ''",
    "title": "[MITOXANTRONE] (μM)", "tickSize": -7, "labelPadding": 14, "titlePadding": 3, "labelOverlap": false, "labelFlush": false}},
  "y": {"field": "y", "type": "quantitative", "scale": {"domain": [0, 113.25], "nice": false, "zero": false},
   "axis": {"values": [0,25,50,75,100], "title": null, "tickSize": -7, "labelPadding": 12, "format": "d"}}
 },
 "layer": [
  {"data": {"name": "p3"}, "mark": {"type": "line", "interpolate": "monotone", "color": "#8a8a8a", "strokeWidth": 1, "opacity": 0.85}, "encoding": {"detail": {"field": "c", "type": "nominal"}}},
  {"data": {"name": "a3"}, "mark": {"type": "line", "interpolate": "monotone", "color": "#22dd22", "strokeWidth": 3}, "encoding": {}},
  {"data": {"name": "l3"}, "mark": {"type": "point", "shape": "M-1,0L-0.186,-0.797L-0.186,-0.39L1,-0.39L1,0.39L-0.186,0.39L-0.186,0.797Z", "size": 3481, "filled": true, "color": "#5CC797", "opacity": 0.7, "strokeWidth": 0, "clip": false}},
  {"data": {"name": "r3"}, "mark": {"type": "point", "shape": "M1,0L0.231,-0.769L0.231,-0.372L-1,-0.372L-1,0.372L0.231,0.372L0.231,0.769Z", "size": 6084, "filled": true, "color": "#5CC797", "opacity": 0.7, "strokeWidth": 0, "clip": false}},
  {"data": {"name": "t3"}, "mark": {"type": "text", "fontWeight": "bold", "fontSize": 31, "color": "#00B050", "clip": false}, "encoding": {"text": {"field": "t"}}},
  {"data": {"name": "t3b"}, "mark": {"type": "text", "fontSize": 47, "color": "#00B050", "align": "left", "baseline": "alphabetic", "clip": false}, "encoding": {"text": {"field": "t"}}},
  {"data": {"name": "y3"}, "mark": {"type": "line", "color": "#FFFF00", "strokeWidth": 6.5, "clip": false}, "encoding": {}},
  {"data": {"name": "y3"}, "mark": {"type": "point", "shape": "circle", "size": 1500, "filled": true, "fill": "#FFFF00", "stroke": "#111111", "strokeWidth": 2, "opacity": 1, "clip": false}}
 ]
}
]
}
